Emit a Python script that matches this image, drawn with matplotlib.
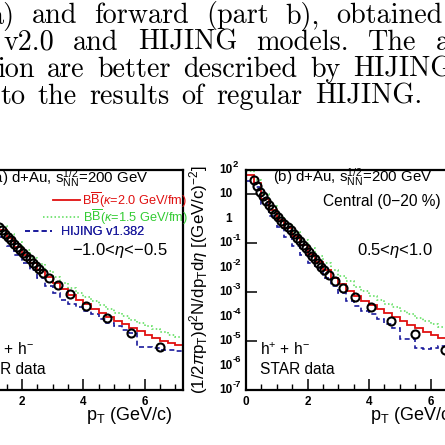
import matplotlib
matplotlib.use("Agg")
import matplotlib.pyplot as plt
import numpy as np

# paper text lines above the figure (cropped, justified page text)
PAGE_WORDS = [
    ["a)", "and", "forward", "(part", "b),", "obtained"],
    ["v2.0", "and", "HIJING", "models.", "The", "au"],
    ["ion", "are", "better", "described", "by", "HIJING"],
    ["to", "the", "results", "of", "regular", "HIJING."],
]
PAGE_START_PX = [-10, 3, -3, 0]
PAGE_END_PX = [443, 466, 452, 422]
PAGE_BASE_PX = [23, 50, 77, 104]

# histogram bin edges (GeV/c)
EDGES_A = [1.0, 1.25, 1.5, 1.75, 2.0, 2.25, 2.5, 2.75, 3.0, 3.25, 3.5, 3.75, 4.0,
           4.25, 4.5, 4.75, 5.0, 5.25, 5.5, 5.75, 6.0, 6.25, 6.5, 6.75, 7.0, 7.25]
EDGES_B = [0.0, 0.25, 0.5, 0.75] + EDGES_A

# panel (a): -1.0 < eta < -0.5, log10 of yield
STAR_PT_A = [1.25, 1.35, 1.45, 1.55, 1.65, 1.75, 1.85, 1.95, 2.05, 2.15, 2.25, 2.35,
             2.45, 2.55, 2.68, 2.88, 3.17, 3.56, 4.08, 4.77, 5.55, 6.49]
STAR_LOG_A = [-0.32, -0.46, -0.6, -0.74, -0.88, -1.01, -1.14, -1.27, -1.4, -1.53, -1.66,
              -1.79, -1.92, -2.04, -2.2, -2.42, -2.72, -3.08, -3.57, -4.07, -4.68, -5.25]
RED_LOG_A = [-0.1, -0.45, -0.8, -1.15, -1.48, -1.8, -2.1, -2.38, -2.64, -2.88, -3.1,
             -3.3, -3.5, -3.68, -3.85, -4.02, -4.17, -4.32, -4.47, -4.6, -4.73, -4.86,
             -4.98, -5.08, -5.17]
GREEN_LOG_A = [0.05, -0.3, -0.63, -0.96, -1.28, -1.58, -1.86, -2.13, -2.38, -2.61,
               -2.82, -3.02, -3.2, -3.37, -3.54, -3.7, -3.85, -3.99, -4.13, -4.26,
               -4.39, -4.51, -4.63, -4.74, -4.85]
BLUE_LOG_A = [-0.35, -0.75, -1.12, -1.47, -1.8, -2.1, -2.42, -2.75, -3.05, -3.3, -3.48,
              -3.62, -3.75, -3.9, -4.1, -4.27, -4.4, -4.55, -4.68, -5.25, -5.25, -5.3,
              -5.35, -5.38, -5.4]

# panel (b): 0.5 < eta < 1.0, central
STAR_PT_B = [0.25, 0.35, 0.45, 0.55, 0.65, 0.75, 0.85, 0.95, 1.05, 1.15, 1.25, 1.35,
             1.45, 1.55, 1.65, 1.75, 1.85, 1.95, 2.05, 2.15, 2.25, 2.35, 2.45, 2.55,
             2.7, 2.9, 3.15, 3.55, 4.07, 4.72, 5.5, 6.46]
STAR_LOG_B = [1.6, 1.35, 1.12, 0.93, 0.75, 0.57, 0.39, 0.21, 0.07, -0.07, -0.2, -0.34,
              -0.47, -0.62, -0.77, -0.92, -1.07, -1.21, -1.36, -1.51, -1.66, -1.81,
              -1.96, -2.11, -2.3, -2.55, -2.84, -3.2, -3.6, -4.19, -4.72, -5.38]
RED_LOG_B = [1.8, 1.45, 0.82, 0.35, -0.03, -0.37, -0.72, -1.08, -1.44, -1.78, -2.1,
             -2.4, -2.68, -2.93, -3.15, -3.35, -3.53, -3.7, -3.87, -4.03, -4.18, -4.33,
             -4.48, -4.61, -4.74, -4.87, -4.99, -5.1, -5.2]
GREEN_LOG_B = [1.95, 1.6, 1.0, 0.52, 0.12, -0.22, -0.55, -0.88, -1.2, -1.5, -1.8, -2.08,
               -2.33, -2.56, -2.77, -2.96, -3.14, -3.31, -3.47, -3.62, -3.77, -3.91,
               -4.05, -4.18, -4.3, -4.42, -4.54, -4.65, -4.75]
BLUE_LOG_B = [1.55, 1.3, 0.6, 0.1, -0.33, -0.75, -1.12, -1.47, -1.8, -2.0, -2.4, -2.75,
              -3.05, -3.35, -3.55, -3.75, -3.9, -4.1, -4.3, -4.45, -4.9, -4.92, -5.3,
              -5.32, -5.3, -5.2, -5.4, -5.5, -5.6]

RED = "#e01010"
GREEN = "#55dd55"
BLUE = "#1a1a9c"
SANS = "Liberation Sans"

plt.rcParams["mathtext.fontset"] = "custom"
plt.rcParams["mathtext.rm"] = SANS
plt.rcParams["mathtext.it"] = SANS + ":italic"
plt.rcParams["mathtext.sf"] = SANS

W = 445.0
GREEN_DOTS = (0, (1, 1.5))
BLUE_DASH = (0, (3, 2))


def px_box(left, top, width, height):
    return [left / W, 1 - (top + height) / W, width / W, height / W]


def steps(ax, edges, logs, **kw):
    vals = np.power(10.0, logs)
    ax.stairs(vals, edges, baseline=None, **kw)


def justified_line(fig, renderer, words, x0, x1, base):
    """Place words like a justified TeX line between x0 and x1 (pixels)."""
    texts = [fig.text(0, 1 - base / W, w, fontfamily="cmr10", fontsize=20.3,
                      ha="left", va="baseline") for w in words]
    widths = [t.get_window_extent(renderer).width for t in texts]
    gap = (x1 - x0 - sum(widths)) / (len(words) - 1)
    x = x0
    for t, w in zip(texts, widths):
        t.set_x(x / W)
        x += w + gap


def draw_panel(ax, edges, red, green, blue, pt, star, xlabel_right):
    steps(ax, edges, green, color=GREEN, lw=1.1, ls=GREEN_DOTS)
    steps(ax, edges, blue, color=BLUE, lw=1.2, ls=BLUE_DASH)
    steps(ax, edges, red, color=RED, lw=1.3)
    ax.plot(pt, np.power(10.0, star), ls="none", marker="o", ms=5.8,
            mfc="none", mec="black", mew=1.5)

    ax.set_yscale("log")
    ax.set_ylim(1e-7, 1e2)
    ax.set_xlim(0, 7.25)
    ax.set_xticks([0, 2, 4, 6])
    ax.set_xticks(np.arange(0, 7.3, 0.5), minor=True)
    ax.set_xticklabels(["0", "2", "4", "6"], fontfamily=SANS, fontsize=8.5,
                       fontweight="bold")
    ax.tick_params(axis="x", which="major", direction="in", length=8, width=1.1,
                   pad=4, top=False)
    ax.tick_params(axis="x", which="minor", direction="in", length=4, width=1.0,
                   top=False)
    ax.tick_params(axis="y", which="major", direction="in", length=8, width=1.1,
                   labelleft=False, right=False)
    ax.tick_params(axis="y", which="minor", direction="in", length=4, width=0.8,
                   right=False)
    for s in ax.spines.values():
        s.set_linewidth(1.6)

    ax.set_xlabel(r"p$_{\rm T}$ (GeV/c)", fontfamily=SANS, fontsize=13, loc="right")
    ax.xaxis.label.set_va("center")
    ax.xaxis.set_label_coords(xlabel_right, -26 / 220)


def legend_row(ax, handle, label, color, x_px, y_px, hlen, pad):
    leg = ax.legend([handle], [label], loc="center left",
                    bbox_to_anchor=(x_px / 222.5, 1 - y_px / 220),
                    handlelength=hlen, handletextpad=pad, frameon=False,
                    borderpad=0, borderaxespad=0,
                    prop={"family": SANS, "size": 9.2})
    leg.get_texts()[0].set_color(color)
    ax.add_artist(leg)


fig = plt.figure(figsize=(4.45, 4.45), dpi=100)
renderer = fig.canvas.get_renderer()

for words, x0, x1, b in zip(PAGE_WORDS, PAGE_START_PX, PAGE_END_PX, PAGE_BASE_PX):
    justified_line(fig, renderer, words, x0, x1, b)

# panel (a), mostly cut off on the left
ax_a = fig.add_axes(px_box(-39.5, 170, 222.5, 220))
draw_panel(ax_a, EDGES_A, RED_LOG_A, GREEN_LOG_A, BLUE_LOG_A, STAR_PT_A, STAR_LOG_A,
           (172 + 39.5) / 222.5)

# panel (b), cut off on the right
ax_b = fig.add_axes(px_box(246, 170, 223, 220))
draw_panel(ax_b, EDGES_B, RED_LOG_B, GREEN_LOG_B, BLUE_LOG_B, STAR_PT_B, STAR_LOG_B,
           (456 - 246) / 223)

# ROOT style y tick labels on panel (b)
ytrans = ax_b.get_yaxis_transform()
for e in range(-7, 3):
    base = "1" if e == 0 else "10"
    ax_b.annotate(base, xy=(0, 10.0 ** e), xycoords=ytrans, xytext=(-10, 0),
                  textcoords="offset points", ha="right", va="center",
                  fontfamily=SANS, fontsize=8.5, fontweight="bold")
    if e not in (0, 1):
        ax_b.annotate(str(e), xy=(0, 10.0 ** e), xycoords=ytrans, xytext=(-9.5, 4),
                      textcoords="offset points", ha="left", va="center",
                      fontfamily=SANS, fontsize=6.8, fontweight="bold")

fig.text(199 / W, 1 - 280 / W,
         r"(1/2$\pi$p$_{\rm T}$)d$^{2}$N/dp$_{\rm T}$d$\eta$ [(GeV/c)$^{-2}$]",
         rotation=90, ha="center", va="center", fontfamily=SANS, fontsize=12.2)

# panel texts
tk = dict(fontfamily=SANS, fontsize=11.2, ha="left", va="center")
fig.text(-11 / W, 1 - 178 / W, r"(a) d+Au, s$^{1/2}_{\rm NN}$=200 GeV",
         **dict(tk, fontsize=10.8))
fig.text(273 / W, 1 - 177 / W, r"(b) d+Au, s$^{1/2}_{\rm NN}$=200 GeV",
         **dict(tk, fontsize=10.8))
fig.text(323 / W, 1 - 202 / W, "Central (0\u221220 %)", **tk)
fig.text(357 / W, 1 - 250 / W, r"0.5<$\eta$<1.0", fontfamily=SANS, fontsize=12,
         ha="left", va="center")
fig.text(72 / W, 1 - 250 / W, "\u22121.0<$\\eta$<\u22120.5", fontfamily=SANS,
         fontsize=12, ha="left", va="center")
fig.text(-16 / W, 1 - 350 / W, r"h$^{+}$ + h$^{-}$", **tk)
fig.text(-29 / W, 1 - 370 / W, "STAR data", **tk)
fig.text(260 / W, 1 - 350 / W, r"h$^{+}$ + h$^{-}$", **tk)
fig.text(260 / W, 1 - 370 / W, "STAR data", **tk)

# legend of panel (a), one row at a time (ROOT legend layout)
h_red, = ax_a.plot([], [], color=RED, lw=1.3)
h_green, = ax_a.plot([], [], color=GREEN, lw=1.1, ls=GREEN_DOTS)
h_blue, = ax_a.plot([], [], color=BLUE, lw=1.2, ls=BLUE_DASH)
legend_row(ax_a, h_red, r"B$\overline{\rm B}$($\kappa$=2.0 GeV/fm)", RED,
           53 + 39.5, 30, 2.1, 0.2)
legend_row(ax_a, h_green, r"B$\overline{\rm B}$($\kappa$=1.5 GeV/fm)", "#33cc33",
           43 + 39.5, 47, 2.9, 0.2)
legend_row(ax_a, h_blue, "HIJING v1.382", BLUE, 25 + 39.5, 62, 2.15, 0.7)

fig.savefig("out.png", dpi=100)
